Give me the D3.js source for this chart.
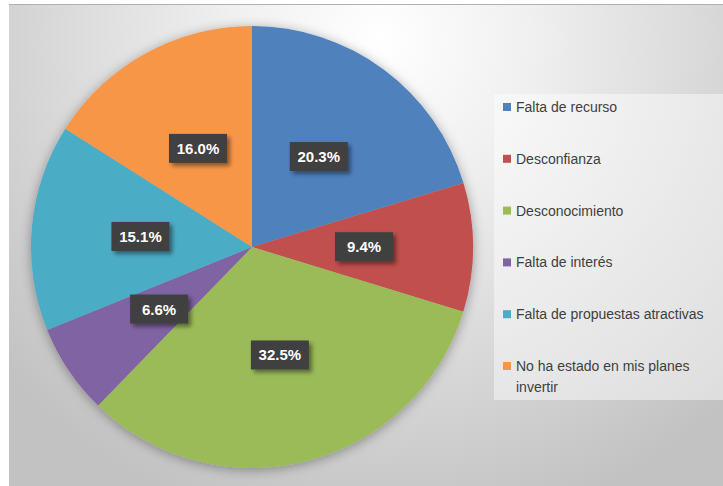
<!DOCTYPE html>
<html>
<head>
<meta charset="utf-8">
<script src="https://cdn.jsdelivr.net/npm/d3@7"></script>
<style>
  body { margin: 0; background: #fff; }
  svg { display: block; }
</style>
</head>
<body>
<script>
var categories = ['Falta de recurso', 'Desconfianza', 'Desconocimiento', 'Falta de interés',
                  'Falta de propuestas atractivas', 'No ha estado en mis planes invertir'];
var values = [20.3, 9.4, 32.5, 6.6, 15.1, 16.0];
var colors = ['#4f81bd', '#c0504d', '#9bbb59', '#8064a2', '#4bacc6', '#f79646'];
// legend lines (last one wraps)
var legendLines = [['Falta de recurso'], ['Desconfianza'], ['Desconocimiento'], ['Falta de interés'],
                   ['Falta de propuestas atractivas'], ['No ha estado en mis planes', 'invertir']];

var W = 723, H = 486;
var cx = 252, cy = 247, r = 221;

var svg = d3.select('body').append('svg')
    .attr('width', W)
    .attr('height', H);

var defs = svg.append('defs');

var bg = defs.append('radialGradient')
    .attr('id', 'bg')
    .attr('gradientUnits', 'userSpaceOnUse')
    .attr('cx', 380).attr('cy', 40).attr('r', 500);
bg.append('stop').attr('offset', '0%').attr('stop-color', '#ffffff');
bg.append('stop').attr('offset', '30%').attr('stop-color', '#f0f0f0');
bg.append('stop').attr('offset', '100%').attr('stop-color', '#c2c2c2');

var sh = defs.append('filter').attr('id', 'pieShadow')
    .attr('x', '-20%').attr('y', '-20%').attr('width', '140%').attr('height', '140%');
sh.append('feDropShadow').attr('dx', 0).attr('dy', 2).attr('stdDeviation', 6)
    .attr('flood-color', '#000').attr('flood-opacity', 0.35);

var lsh = defs.append('filter').attr('id', 'lblShadow')
    .attr('x', '-30%').attr('y', '-30%').attr('width', '160%').attr('height', '160%');
lsh.append('feDropShadow').attr('dx', 3).attr('dy', 3).attr('stdDeviation', 2)
    .attr('flood-color', '#000').attr('flood-opacity', 0.45);

// chart area
svg.append('rect')
    .attr('x', 9).attr('y', 4)
    .attr('width', W - 9).attr('height', H - 4)
    .attr('fill', 'url(#bg)');
svg.append('line')
    .attr('x1', 9).attr('x2', W).attr('y1', 4.5).attr('y2', 4.5)
    .attr('stroke', '#b0b0b0').attr('stroke-width', 1);

var pie = d3.pie().sort(null).value(function(d) { return d; });
var arcs = pie(values);
var arc = d3.arc().innerRadius(0).outerRadius(r);
var labelArc = d3.arc().innerRadius(112).outerRadius(112);

var g = svg.append('g').attr('transform', 'translate(' + cx + ',' + cy + ')');

g.append('g').attr('filter', 'url(#pieShadow)')
  .selectAll('path')
  .data(arcs)
  .enter().append('path')
    .attr('d', arc)
    .attr('fill', function(d, i) { return colors[i]; });

var lbl = g.selectAll('g.lbl')
  .data(arcs)
  .enter().append('g')
    .attr('class', 'lbl')
    .attr('transform', function(d) { return 'translate(' + labelArc.centroid(d) + ')'; });

lbl.append('rect')
    .attr('x', -29).attr('y', -15)
    .attr('width', 58).attr('height', 29)
    .attr('fill', '#404040')
    .attr('filter', 'url(#lblShadow)');

lbl.append('text')
    .attr('text-anchor', 'middle')
    .attr('dy', '0.33em')
    .style('font-family', 'Liberation Sans, Arial, sans-serif')
    .style('font-weight', 'bold')
    .style('font-size', '15px')
    .attr('fill', '#ffffff')
    .text(function(d) { return d.value.toFixed(1) + '%'; });

// legend
svg.append('rect')
    .attr('x', 494).attr('y', 94)
    .attr('width', W - 494).attr('height', 306)
    .attr('fill', '#ffffff').attr('fill-opacity', 0.45);

var ly = d3.scalePoint().domain(categories).range([107, 366]);

var leg = svg.selectAll('g.leg')
  .data(categories)
  .enter().append('g')
    .attr('class', 'leg')
    .attr('transform', function(d) { return 'translate(503,' + ly(d) + ')'; });

leg.append('rect')
    .attr('x', 0).attr('y', -4)
    .attr('width', 8).attr('height', 8)
    .attr('fill', function(d, i) { return colors[i]; });

leg.append('text')
    .style('font-family', 'Liberation Sans, Arial, sans-serif')
    .style('font-size', '14px')
    .attr('fill', '#404040')
    .each(function(d, i) {
      var t = d3.select(this);
      legendLines[i].forEach(function(line, j) {
        t.append('tspan').attr('x', 13).attr('y', j * 21).attr('dy', '0.35em').text(line);
      });
    });
</script>
</body>
</html>
